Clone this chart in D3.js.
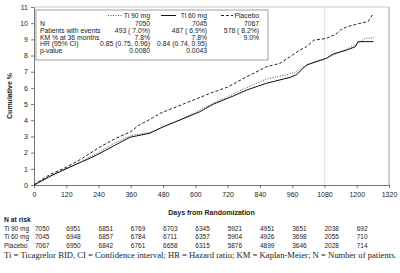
<!DOCTYPE html>
<html>
<head>
<meta charset="utf-8">
<script src="https://cdn.jsdelivr.net/npm/d3@7"></script>
<style>
  body { margin: 0; background: #fff; }
  text { font-family: "Liberation Sans", Arial, sans-serif; fill: #222; }
</style>
</head>
<body>
<svg id="chart" width="400" height="273"></svg>
<script>
// series: [day, cumulative %]
let ti90 = [[0,0],[60,0.5],[120,1.0],[180,1.5],[240,2.0],[300,2.6],[360,3.05],[430,3.25],[480,3.6],[540,4.0],[600,4.5],[660,5.0],[720,5.45],[780,5.95],[865,6.55],[950,6.85],[975,7.0],[1000,7.3],[1040,7.6],[1088,7.85],[1130,8.15],[1163,8.4],[1200,8.7],[1230,9.05],[1265,9.1]];
let ti60 = [[0,0],[60,0.55],[109,0.93],[180,1.45],[233,1.85],[300,2.45],[357,2.95],[431,3.2],[481,3.6],[543,4.02],[617,4.53],[667,5.0],[741,5.5],[791,5.87],[865,6.29],[952,6.65],[975,6.8],[1000,7.2],[1014,7.42],[1088,7.83],[1113,8.1],[1163,8.34],[1195,8.55],[1205,8.86],[1262,8.86]];
let placebo = [[0,0],[30,0.35],[60,0.65],[120,1.1],[180,1.65],[240,2.3],[300,2.85],[360,3.3],[390,3.7],[420,3.95],[469,4.43],[531,4.84],[600,5.3],[660,5.7],[720,6.05],[791,6.69],[865,7.31],[915,7.52],[989,8.34],[1014,8.55],[1040,8.95],[1088,9.06],[1126,9.37],[1140,9.58],[1163,9.78],[1212,9.99],[1242,10.1],[1262,10.6]];

let xTicks = d3.range(0, 1321, 120);
let yTicks = d3.range(0, 12);

let legendCols = ["Ti 90 mg", "Ti 60 mg", "Placebo"];
let legendRows = ["N", "Patients with events", "KM % at 36 months", "HR (95% CI)", "p-value"];
let legendVals = [
  ["7050", "493 ( 7.0%)", "7.8%", "0.85 (0.75, 0.96)", "0.0080"],
  ["7045", "487 ( 6.9%)", "7.8%", "0.84 (0.74, 0.95)", "0.0043"],
  ["7067", "578 ( 8.2%)", "9.0%", "", ""]
];

let riskDays = d3.range(0, 1201, 120);
let riskNames = ["Ti 90 mg", "Ti 60 mg", "Placebo"];
let riskVals = [
  [7050, 6951, 6851, 6769, 6703, 6345, 5921, 4951, 3651, 2038, 692],
  [7045, 6948, 6857, 6784, 6711, 6357, 5904, 4926, 3698, 2055, 710],
  [7067, 6950, 6842, 6761, 6658, 6315, 5876, 4899, 3646, 2028, 714]
];

let footnote = "Ti = Ticagrelor BID, CI = Confidence interval; HR = Hazard ratio; KM = Kaplan-Meier; N = Number of patients.";

let svg = d3.select("#chart");

let x = d3.scaleLinear().domain([0, 1320]).range([34, 389]);
let y = d3.scaleLinear().domain([0, 11]).range([185, 7]);

// frame + reference line at 36 months
svg.append("line").attr("x1", x(0)).attr("x2", x(1320)).attr("y1", y(11)).attr("y2", y(11))
  .attr("stroke", "#bbb").attr("stroke-width", 0.8);
svg.append("line").attr("x1", x(1320)).attr("x2", x(1320)).attr("y1", y(11)).attr("y2", y(0))
  .attr("stroke", "#888").attr("stroke-width", 0.8);
svg.append("line").attr("x1", x(1080)).attr("x2", x(1080)).attr("y1", y(11)).attr("y2", y(0))
  .attr("stroke", "#ddd").attr("stroke-width", 0.8);

// axes
let xAxis = d3.axisBottom(x).tickValues(xTicks).tickFormat(d3.format("d"))
  .tickSize(3).tickSizeOuter(0).tickPadding(4);
let yAxis = d3.axisLeft(y).tickValues(yTicks).tickFormat(d3.format("d"))
  .tickSize(3).tickSizeOuter(0).tickPadding(3);

let gx = svg.append("g").attr("transform", "translate(0," + y(0) + ")").call(xAxis);
let gy = svg.append("g").attr("transform", "translate(" + x(0) + ",0)").call(yAxis);
[gx, gy].forEach(g => {
  g.selectAll("path, line").attr("stroke", "#555").attr("stroke-width", 0.8);
  g.selectAll("text").style("font-size", "7px").attr("fill", "#333");
});

svg.append("text")
  .attr("transform", "translate(12," + y(5.5) + ") rotate(-90)")
  .style("text-anchor", "middle").style("font-size", "7px").style("font-weight", "bold")
  .text("Cumulative %");

svg.append("text")
  .attr("x", (x(0) + x(1320)) / 2).attr("y", 215)
  .style("text-anchor", "middle").style("font-size", "7px").style("font-weight", "bold")
  .text("Days from Randomization");

// curves
let line = d3.line().x(d => x(d[0])).y(d => y(d[1]));
let styles = [
  { data: ti90, dash: "1,1.5", color: "#555", w: 1 },
  { data: ti60, dash: null, color: "#111", w: 1 },
  { data: placebo, dash: "3,2", color: "#222", w: 1 }
];
styles.forEach(s => {
  svg.append("path").datum(s.data)
    .attr("d", line)
    .attr("fill", "none")
    .attr("stroke", s.color)
    .attr("stroke-width", s.w)
    .attr("stroke-dasharray", s.dash);
});

// legend box
let lg = svg.append("g");
lg.append("rect").attr("x", 36).attr("y", 10).attr("width", 232).attr("height", 50)
  .attr("fill", "#fff").attr("stroke", "#888").attr("stroke-width", 0.8);

let colRight = [150, 207, 259];
let sampleX = [[108, 122], [161, 176], [221, 233]];
lg.selectAll(".lg-sample").data(styles).enter().append("line")
  .attr("x1", (d, i) => sampleX[i][0]).attr("x2", (d, i) => sampleX[i][1])
  .attr("y1", 15.5).attr("y2", 15.5)
  .attr("stroke", d => d.color).attr("stroke-width", 1)
  .attr("stroke-dasharray", d => d.dash);
lg.selectAll(".lg-head").data(legendCols).enter().append("text")
  .attr("x", (d, i) => colRight[i]).attr("y", 18)
  .style("text-anchor", "end").style("font-size", "6.8px")
  .text(d => d);
lg.selectAll(".lg-row").data(legendRows).enter().append("text")
  .attr("x", 40).attr("y", (d, i) => 26 + i * 6.8)
  .style("font-size", "6.8px")
  .text(d => d);
legendVals.forEach((col, ci) => {
  lg.selectAll(".lg-val" + ci).data(col).enter().append("text")
    .attr("x", colRight[ci]).attr("y", (d, i) => 26 + i * 6.8)
    .style("text-anchor", "end").style("font-size", "6.8px")
    .text(d => d);
});

// number at risk
svg.append("text").attr("x", 4).attr("y", 222)
  .style("font-size", "6.8px").style("font-weight", "bold").text("N at risk");
riskNames.forEach((name, ri) => {
  let yy = 230.5 + ri * 8.5;
  svg.append("text").attr("x", 4).attr("y", yy).style("font-size", "6.5px").text(name);
  svg.selectAll(".risk" + ri).data(riskVals[ri]).enter().append("text")
    .attr("x", (d, i) => x(riskDays[i]) + (i === 0 ? 1 : 0)).attr("y", yy)
    .style("font-size", "6.5px")
    .text(d => d);
});

svg.append("text").attr("x", 4).attr("y", 258)
  .style("font-family", "'Liberation Serif', 'Times New Roman', serif")
  .style("font-size", "8.65px").attr("fill", "#111")
  .text(footnote);
</script>
</body>
</html>
